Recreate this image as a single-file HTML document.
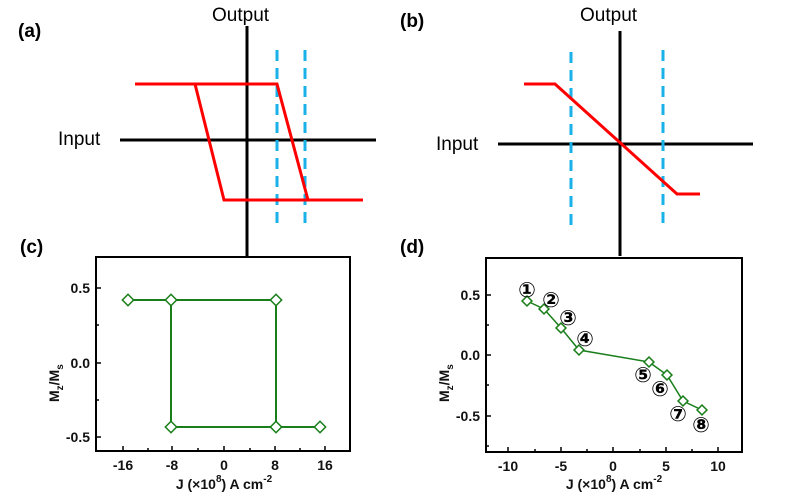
<!DOCTYPE html>
<html><head><meta charset="utf-8"><style>
html,body{margin:0;padding:0;background:#fff;}
svg{display:block;}
.t{font-family:"Liberation Sans",sans-serif;}
.tk{font-family:"Liberation Sans",sans-serif;font-weight:bold;font-size:14px;fill:#111;}
.c{font-family:"DejaVu Sans",sans-serif;font-size:21px;fill:#000;}
</style></head><body>
<svg width="788" height="493" viewBox="0 0 788 493" xmlns="http://www.w3.org/2000/svg">
<!-- (a) -->
<text x="18" y="37" class="t" font-size="19" font-weight="bold">(a)</text>
<text x="212" y="21" class="t" font-size="19">Output</text>
<text x="58" y="145" class="t" font-size="19">Input</text>
<line x1="247" y1="26" x2="247" y2="256" stroke="#000" stroke-width="3"/>
<line x1="120" y1="140" x2="376" y2="140" stroke="#000" stroke-width="3"/>
<line x1="277" y1="50" x2="277" y2="230" stroke="#1ab0e8" stroke-width="3" stroke-dasharray="11,7"/>
<line x1="305" y1="50" x2="305" y2="230" stroke="#1ab0e8" stroke-width="3" stroke-dasharray="11,7"/>
<polyline points="135,84 277,84 308,200 363,200" fill="none" stroke="#f00" stroke-width="3"/>
<polyline points="195,84 224,200 308,200" fill="none" stroke="#f00" stroke-width="3"/>
<!-- (b) -->
<text x="400" y="27" class="t" font-size="19" font-weight="bold">(b)</text>
<text x="580" y="21" class="t" font-size="19">Output</text>
<text x="436" y="150" class="t" font-size="19">Input</text>
<line x1="620" y1="31" x2="620" y2="256" stroke="#000" stroke-width="3"/>
<line x1="498" y1="144" x2="753" y2="144" stroke="#000" stroke-width="3"/>
<line x1="571" y1="52" x2="571" y2="232" stroke="#1ab0e8" stroke-width="3" stroke-dasharray="11,7"/>
<line x1="663" y1="50" x2="663" y2="230" stroke="#1ab0e8" stroke-width="3" stroke-dasharray="11,7"/>
<polyline points="524,84 555,84 677,194 700,194" fill="none" stroke="#f00" stroke-width="3"/>
<!-- (c) -->
<text x="20" y="253" class="t" font-size="19" font-weight="bold">(c)</text>
<rect x="96" y="257" width="254" height="194" fill="none" stroke="#000" stroke-width="2"/>
<g stroke="#000" stroke-width="1.5">
<line x1="96" y1="288" x2="101" y2="288"/><line x1="96" y1="325" x2="99" y2="325"/>
<line x1="96" y1="363" x2="101" y2="363"/><line x1="96" y1="400" x2="99" y2="400"/>
<line x1="96" y1="437" x2="101" y2="437"/>
<line x1="123" y1="451" x2="123" y2="446"/><line x1="148" y1="451" x2="148" y2="448"/>
<line x1="172" y1="451" x2="172" y2="446"/><line x1="198" y1="451" x2="198" y2="448"/>
<line x1="224" y1="451" x2="224" y2="446"/><line x1="250" y1="451" x2="250" y2="448"/>
<line x1="275" y1="451" x2="275" y2="446"/><line x1="300" y1="451" x2="300" y2="448"/>
<line x1="325" y1="451" x2="325" y2="446"/>
</g>
<g class="tk" text-anchor="end"><text x="90" y="293">0.5</text><text x="90" y="368">0.0</text><text x="90" y="442">-0.5</text></g>
<g class="tk" text-anchor="middle"><text x="123" y="470">-16</text><text x="172" y="470">-8</text><text x="224" y="470">0</text><text x="275" y="470">8</text><text x="325" y="470">16</text></g>
<text x="224" y="489" class="tk" font-size="16" text-anchor="middle">J (×10<tspan font-size="10" dy="-7">8</tspan><tspan dy="7">) A  cm</tspan><tspan font-size="10" dy="-7">-2</tspan></text>
<text transform="translate(59,402) rotate(-90)" class="tk" font-size="16">M<tspan font-size="10" dy="4">z</tspan><tspan dy="-4">/M</tspan><tspan font-size="10" dy="4">s</tspan></text>
<g fill="none" stroke="#1a7f1a" stroke-width="2">
<polyline points="128,300 276,300 276,427 320,427"/>
<polyline points="171,300 171,427 276,427"/>
<g fill="#fff" stroke-width="1.5">
<rect x="124" y="296" width="8" height="8" transform="rotate(45 128 300)"/>
<rect x="167" y="296" width="8" height="8" transform="rotate(45 171 300)"/>
<rect x="272" y="296" width="8" height="8" transform="rotate(45 276 300)"/>
<rect x="167" y="423" width="8" height="8" transform="rotate(45 171 427)"/>
<rect x="272" y="423" width="8" height="8" transform="rotate(45 276 427)"/>
<rect x="316" y="423" width="8" height="8" transform="rotate(45 320 427)"/>
</g></g>
<!-- (d) -->
<text x="400" y="253" class="t" font-size="19" font-weight="bold">(d)</text>
<rect x="486" y="258" width="256" height="194" fill="none" stroke="#000" stroke-width="2"/>
<g stroke="#000" stroke-width="1.5">
<line x1="486" y1="295" x2="491" y2="295"/><line x1="486" y1="325" x2="489" y2="325"/>
<line x1="486" y1="355" x2="491" y2="355"/><line x1="486" y1="385" x2="489" y2="385"/>
<line x1="486" y1="416" x2="491" y2="416"/><line x1="486" y1="446" x2="489" y2="446"/>
<line x1="508" y1="452" x2="508" y2="447"/><line x1="535" y1="452" x2="535" y2="449"/>
<line x1="561" y1="452" x2="561" y2="447"/><line x1="587" y1="452" x2="587" y2="449"/>
<line x1="613" y1="452" x2="613" y2="447"/><line x1="640" y1="452" x2="640" y2="449"/>
<line x1="666" y1="452" x2="666" y2="447"/><line x1="692" y1="452" x2="692" y2="449"/>
<line x1="718" y1="452" x2="718" y2="447"/>
</g>
<g class="tk" text-anchor="end"><text x="480" y="300">0.5</text><text x="480" y="360">0.0</text><text x="480" y="421">-0.5</text></g>
<g class="tk" text-anchor="middle"><text x="508" y="471">-10</text><text x="561" y="471">-5</text><text x="613" y="471">0</text><text x="666" y="471">5</text><text x="718" y="471">10</text></g>
<text x="614" y="489" class="tk" font-size="16" text-anchor="middle">J (×10<tspan font-size="10" dy="-7">8</tspan><tspan dy="7">) A  cm</tspan><tspan font-size="10" dy="-7">-2</tspan></text>
<text transform="translate(449,402) rotate(-90)" class="tk" font-size="16">M<tspan font-size="10" dy="4">z</tspan><tspan dy="-4">/M</tspan><tspan font-size="10" dy="4">s</tspan></text>
<g fill="none" stroke="#1a7f1a" stroke-width="1.5">
<polyline points="527,301 544,309 561,328 579,350 649,362 667,375 683,401 702,410"/>
<g fill="#fff">
<rect x="523.5" y="297.5" width="7" height="7" transform="rotate(45 527 301)"/>
<rect x="540.5" y="305.5" width="7" height="7" transform="rotate(45 544 309)"/>
<rect x="557.5" y="324.5" width="7" height="7" transform="rotate(45 561 328)"/>
<rect x="575.5" y="346.5" width="7" height="7" transform="rotate(45 579 350)"/>
<rect x="645.5" y="358.5" width="7" height="7" transform="rotate(45 649 362)"/>
<rect x="663.5" y="371.5" width="7" height="7" transform="rotate(45 667 375)"/>
<rect x="679.5" y="397.5" width="7" height="7" transform="rotate(45 683 401)"/>
<rect x="698.5" y="406.5" width="7" height="7" transform="rotate(45 702 410)"/>
</g></g>
<g class="c" text-anchor="middle" font-weight="bold">
<text x="527" y="297">①</text><text x="551" y="307">②</text><text x="568" y="325">③</text><text x="585" y="346">④</text>
<text x="643" y="382">⑤</text><text x="660" y="396">⑥</text><text x="678" y="421">⑦</text><text x="701" y="432">⑧</text>
</g>
</svg>
</body></html>
